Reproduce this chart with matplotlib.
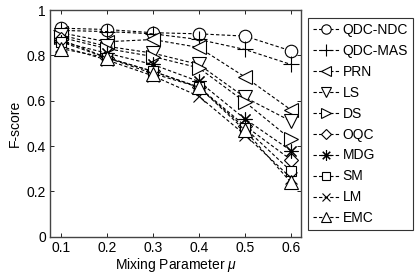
import numpy as np
import matplotlib
matplotlib.use('Agg')
import matplotlib.pyplot as plt

plt.rcParams.update({
    'font.family': ['Liberation Sans', 'DejaVu Sans'],
    'font.size': 10,
    'xtick.direction': 'in',
    'ytick.direction': 'in',
    'mathtext.fontset': 'custom',
    'mathtext.it': 'Liberation Sans:italic',
})

mu = [0.1, 0.2, 0.3, 0.4, 0.5, 0.6]
methods = ['QDC-NDC', 'QDC-MAS', 'PRN', 'LS', 'DS', 'OQC', 'MDG', 'SM', 'LM', 'EMC']
qdc_ndc = [0.92, 0.914, 0.90, 0.895, 0.885, 0.82]
qdc_mas = [0.91, 0.905, 0.895, 0.87, 0.826, 0.76]
prn = [0.90, 0.86, 0.87, 0.835, 0.705, 0.56]
ls = [0.89, 0.84, 0.81, 0.76, 0.615, 0.51]
ds = [0.88, 0.83, 0.795, 0.745, 0.595, 0.43]
oqc = [0.87, 0.79, 0.73, 0.66, 0.49, 0.34]
mdg = [0.86, 0.81, 0.76, 0.685, 0.52, 0.38]
sm = [0.86, 0.79, 0.73, 0.66, 0.48, 0.29]
lm = [0.84, 0.78, 0.71, 0.62, 0.45, 0.26]
emc = [0.83, 0.79, 0.72, 0.66, 0.47, 0.24]

series = [qdc_ndc, qdc_mas, prn, ls, ds, oqc, mdg, sm, lm, emc]
markers = ['o', '+', '<', 'v', '>', 'D', (8, 2, 0), 's', 'x', '^']
sizes = [9, 11, 10, 10, 10, 7, 10, 7.5, 8, 10]

fig = plt.figure(figsize=(4.17, 2.78), dpi=100)
ax = fig.add_axes([0.12, 0.148, 0.602, 0.816])

for name, vals, m, s in zip(methods, series, markers, sizes):
    ax.plot(mu, vals, linestyle='--', color='black', linewidth=0.8,
            marker=m, markersize=s, markerfacecolor='white',
            markeredgecolor='black', markeredgewidth=0.8, label=name,
            dashes=(3, 2))

ax.set_xlim(0.077, 0.622)
ax.set_ylim(0, 1)
ax.set_xticks(mu)
ax.set_xticklabels(['0.1', '0.2', '0.3', '0.4', '0.5', '0.6'])
ax.set_yticks([0, 0.2, 0.4, 0.6, 0.8, 1])
ax.set_yticklabels(['0', '0.2', '0.4', '0.6', '0.8', '1'])
ax.tick_params(top=True, right=True, length=3, width=0.6, pad=3)
for sp in ax.spines.values():
    sp.set_linewidth(1.0)
    sp.set_color('#444444')
ax.set_xlabel(r'Mixing Parameter $\mu$', labelpad=1)
ax.set_ylabel('F-score', labelpad=3)

leg = ax.legend(loc='upper left', bbox_to_anchor=(1.027, 0.965), frameon=True,
                fancybox=False, edgecolor='#333333', handlelength=1.9,
                handletextpad=0.25, borderaxespad=0, labelspacing=0.5,
                markerscale=0.75, borderpad=0.35, framealpha=1)
leg.get_frame().set_linewidth(0.8)

fig.savefig('out.png', dpi=100)
